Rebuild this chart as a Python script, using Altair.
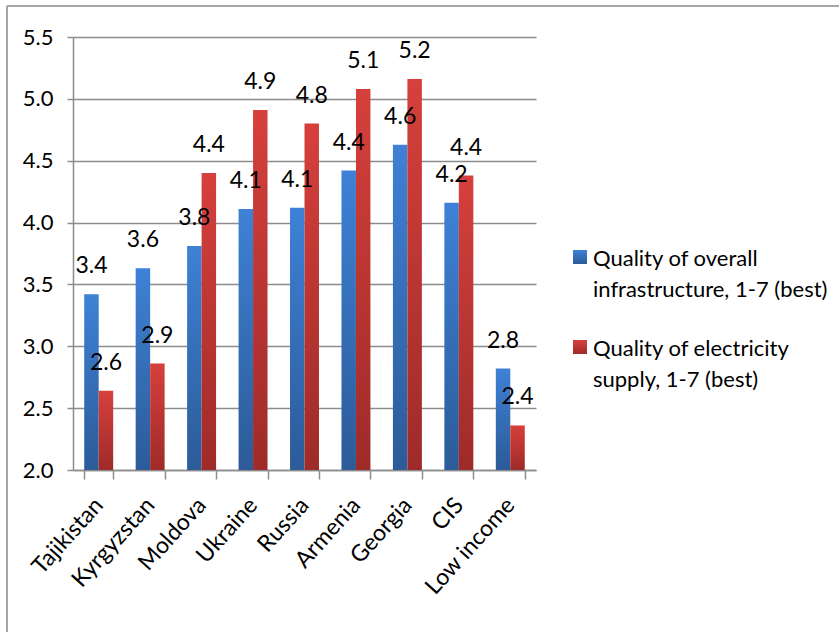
import altair as alt
import pandas as pd

categories = ["Tajikistan", "Kyrgyzstan", "Moldova", "Ukraine", "Russia",
              "Armenia", "Georgia", "CIS", "Low income"]
infrastructure = [3.42, 3.63, 3.81, 4.11, 4.12, 4.42, 4.63, 4.16, 2.82]
electricity = [2.64, 2.86, 4.40, 4.91, 4.80, 5.08, 5.16, 4.38, 2.36]
series = ["Quality of overall infrastructure, 1-7 (best)",
          "Quality of electricity supply, 1-7 (best)"]
legend_text = ["Quality of overall\ninfrastructure, 1-7 (best)",
               "Quality of electricity\nsupply, 1-7 (best)"]
y_ticks = [2.0, 2.5, 3.0, 3.5, 4.0, 4.5, 5.0, 5.5]
y_min, y_max = 2.0, 5.5

rows = []
for c, a, b in zip(categories, infrastructure, electricity):
    rows.append({"cat": c, "series": series[0], "value": a})
    rows.append({"cat": c, "series": series[1], "value": b})
df = pd.DataFrame(rows)

FONT = "Lato"
FS = 22
AXIS_GRAY = "#8c8c8c"

blue_grad = alt.Gradient(gradient="linear",
                         stops=[alt.GradientStop(color="#3e81d6", offset=0),
                                alt.GradientStop(color="#2c5b98", offset=1)],
                         x1=0, x2=0, y1=0, y2=1)
red_grad = alt.Gradient(gradient="linear",
                        stops=[alt.GradientStop(color="#d6403c", offset=0),
                               alt.GradientStop(color="#9e2b29", offset=1)],
                        x1=0, x2=0, y1=0, y2=1)
grads = [blue_grad, red_grad]

x = alt.X("cat:N", sort=categories,
          scale=alt.Scale(paddingInner=0.437, paddingOuter=0.218),
          axis=alt.Axis(title=None, labelAngle=-48, labelAlign="right",
                        labelBaseline="middle", tickBand="extent", tickSize=9,
                        labelPadding=22, labelFontSize=23, labelFont=FONT,
                        labelColor="#000000", domainColor=AXIS_GRAY,
                        tickColor=AXIS_GRAY, domainWidth=1.5, tickWidth=1.5,
                        grid=False, labelLimit=0))
xoff = alt.XOffset("series:N", sort=series,
                   scale=alt.Scale(paddingInner=0, paddingOuter=0))
y = alt.Y("value:Q", scale=alt.Scale(domain=[y_min, y_max], nice=False, zero=False),
          axis=alt.Axis(values=y_ticks, format=".1f", title=None,
                        labelFontSize=FS, labelFont=FONT, labelColor="#000000",
                        labelPadding=14, tickSize=6, tickColor=AXIS_GRAY,
                        domainColor=AXIS_GRAY, domainWidth=1.5, tickWidth=1.5,
                        gridColor=AXIS_GRAY, gridWidth=1.5))

layers = []
for s, g in zip(series, grads):
    layers.append(
        alt.Chart(df).transform_filter(alt.datum.series == s)
        .mark_bar(fill=g)
        .encode(x=x, xOffset=xoff, y=y, y2=alt.Y2(datum=y_min))
    )
labels = alt.Chart(df).mark_text(dy=-21, baseline="alphabetic", fontSize=23,
                                 font=FONT, color="#000000").encode(
    x=x, xOffset=xoff, y=y, text=alt.Text("value:Q", format=".1f"))
layers.append(labels)

# manual legend
leg_y = [220, 310]
for t, g, yy in zip(legend_text, grads, leg_y):
    ldf = pd.DataFrame({"label": [t]})
    layers.append(alt.Chart(ldf).mark_square(fill=g, size=196, opacity=1).encode(
        x=alt.value(507), y=alt.value(yy)))
    layers.append(alt.Chart(ldf).mark_text(align="left", baseline="alphabetic",
                                           lineBreak="\n", lineHeight=31,
                                           fontSize=FS, font=FONT,
                                           color="#000000").encode(
        x=alt.value(520), y=alt.value(yy + 9), text="label:N"))

# frame lines
fdf = pd.DataFrame({"k": [0]})
layers.append(alt.Chart(fdf).mark_rule(color="#a6a6a6", strokeWidth=2).encode(
    x=alt.value(-66), y=alt.value(-31), y2=alt.value(595)))
layers.append(alt.Chart(fdf).mark_rule(color="#a6a6a6", strokeWidth=2).encode(
    x=alt.value(-66), x2=alt.value(766), y=alt.value(-31)))

chart = alt.layer(*layers).properties(
    width=463, height=433,
    padding={"left": 73, "top": 37, "right": 303, "bottom": 162},
    autosize=alt.AutoSizeParams(type="none"),
).configure_view(stroke=None)

chart.save("out.html", embed_options={"renderer": "svg", "actions": False})
